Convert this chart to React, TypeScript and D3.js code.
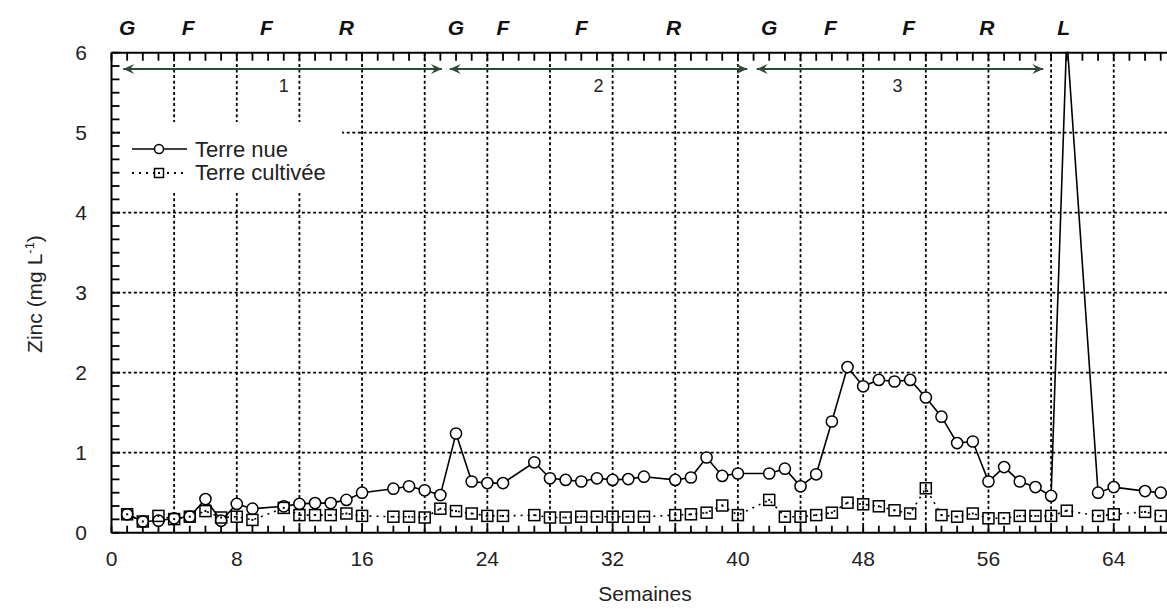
import React from "react";
import * as d3 from "d3";

// ---- data ----
const weeks: number[] = d3.range(1, 68);
const terreNue: (number | null)[] = [
  0.23, 0.14, 0.15, 0.18, 0.2, 0.42, 0.15, 0.36, 0.3, null,
  0.33, 0.36, 0.37, 0.37, 0.41, 0.5, null, 0.55, 0.58, 0.53,
  0.47, 1.24, 0.64, 0.62, 0.62, null, 0.88, 0.68, 0.66, 0.64,
  0.68, 0.66, 0.67, 0.7, null, 0.66, 0.69, 0.94, 0.71, 0.74,
  null, 0.74, 0.8, 0.58, 0.73, 1.39, 2.07, 1.83, 1.91, 1.89,
  1.91, 1.69, 1.45, 1.12, 1.14, 0.64, 0.82, 0.64, 0.57, 0.46,
  6.2, null, 0.5, 0.57, null, 0.52, 0.5,
];
const terreCultivee: (number | null)[] = [
  0.23, 0.14, 0.21, 0.17, 0.2, 0.27, 0.19, 0.2, 0.16, null,
  0.31, 0.22, 0.22, 0.22, 0.24, 0.21, null, 0.2, 0.2, 0.19,
  0.3, 0.27, 0.24, 0.21, 0.21, null, 0.22, 0.19, 0.19, 0.2,
  0.2, 0.2, 0.2, 0.2, null, 0.22, 0.23, 0.25, 0.34, 0.22,
  null, 0.41, 0.2, 0.2, 0.22, 0.25, 0.375, 0.355, 0.33, 0.28,
  0.24, 0.555, 0.22, 0.2, 0.24, 0.18, 0.18, 0.21, 0.21, 0.21,
  0.275, null, 0.21, 0.23, null, 0.26, 0.21,
];
const seriesNames = ["Terre nue", "Terre cultivée"];

const xTickLabels = [0, 8, 16, 24, 32, 40, 48, 56, 64];
const yTickLabels = [0, 1, 2, 3, 4, 5, 6];
const xGridWeeks = d3.range(4, 68, 4);
const yGridValues = [1, 2, 3, 4, 5];
const xMinorTicks = d3.range(0, 69, 1);
const yMinorTicks = d3.range(0, 37).map((i) => i / 6);

const phaseLabels = ["G", "F", "F", "R", "G", "F", "F", "R", "G", "F", "F", "R", "L"];
const phaseWeeks = [1, 4.9, 9.9, 15, 22, 25, 30, 35.9, 42, 45.9, 50.9, 55.9, 60.8];

const periodStart = [0.75, 21.6, 41.2];
const periodEnd = [21.1, 40.6, 59.5];
const periodLabel = ["1", "2", "3"];
const periodLabelWeek = [11, 31.1, 50.2];

// ---- layout ----
const W = 1167;
const H = 609;
const FONT = "'Liberation Sans', Arial, sans-serif";

export default function App() {
  const x = d3.scaleLinear().domain([0, 68]).range([111.5, 111.5 + 68 * 15.66]);
  const y = d3.scaleLinear().domain([0, 6]).range([532.7, 52.7]);
  const x0 = x(0);
  const yTop = y(6);
  const yBot = y(0);

  const nuePts = weeks
    .map((w, i) => [w, terreNue[i]] as [number, number | null])
    .filter((d) => d[1] !== null) as [number, number][];
  const cultPts = weeks
    .map((w, i) => [w, terreCultivee[i]] as [number, number | null])
    .filter((d) => d[1] !== null) as [number, number][];

  const line = d3
    .line<[number, number]>()
    .x((d) => x(d[0]))
    .y((d) => y(d[1]));

  const arrowY = 69;
  const arrowColor = "#2c4a34";
  const headRight = (tx: number, ty: number) =>
    `M${tx},${ty}L${tx - 11},${ty - 5}L${tx - 7},${ty}L${tx - 11},${ty + 5}Z`;
  const headLeft = (tx: number, ty: number) =>
    `M${tx},${ty}L${tx + 11},${ty - 5}L${tx + 7},${ty}L${tx + 11},${ty + 5}Z`;

  const dot = "3,2.6";

  return (
    <svg
      width={W}
      height={H}
      style={{ position: "absolute", left: 0, top: 0, background: "#fff" }}
      fontFamily={FONT}
    >
      <defs>
        <clipPath id="plotClip">
          <rect x={x0} y={yTop - 1} width={W} height={yBot - yTop + 2} />
        </clipPath>
      </defs>
      <rect x={0} y={0} width={W} height={H} fill="#fff" />

      {/* grid */}
      {yGridValues.map((v) => (
        <line key={"gy" + v} x1={x0} x2={W} y1={y(v)} y2={y(v)} stroke="#000" strokeWidth={1.8} strokeDasharray={dot} />
      ))}
      {xGridWeeks.map((w) => (
        <line key={"gx" + w} x1={x(w)} x2={x(w)} y1={yTop} y2={yBot} stroke="#000" strokeWidth={1.8} strokeDasharray={dot} />
      ))}

      {/* legend background */}
      <rect x={x0 + 9} y={122} width={342 - x0 - 9} height={71} fill="#fff" />

      {/* ticks */}
      {xMinorTicks.map((w) => (
        <g key={"tx" + w}>
          <line x1={x(w)} x2={x(w)} y1={yBot} y2={yBot - 7} stroke="#000" strokeWidth={1.8} />
          <line x1={x(w)} x2={x(w)} y1={yTop} y2={yTop + 8} stroke="#000" strokeWidth={1.8} />
        </g>
      ))}
      {yMinorTicks.map((v, i) => (
        <line key={"ty" + i} x1={x0} x2={x0 + 8} y1={y(v)} y2={y(v)} stroke="#000" strokeWidth={1.8} />
      ))}

      {/* frame */}
      <line x1={x0} x2={W} y1={yTop} y2={yTop} stroke="#000" strokeWidth={2} />
      <line x1={x0} x2={W} y1={yBot} y2={yBot} stroke="#000" strokeWidth={2} />
      <line x1={x0} x2={x0} y1={yTop} y2={yBot} stroke="#000" strokeWidth={2} />

      {/* tick labels */}
      {xTickLabels.map((w) => (
        <text key={"lx" + w} x={x(w)} y={566} textAnchor="middle" fontSize={21} fill="#222">
          {w}
        </text>
      ))}
      {yTickLabels.map((v) => (
        <text key={"ly" + v} x={87} y={y(v) + 7} textAnchor="end" fontSize={21} fill="#222">
          {v}
        </text>
      ))}

      {/* axis titles */}
      <text x={645} y={601} textAnchor="middle" fontSize={21} fill="#222">
        Semaines
      </text>
      <text transform="translate(42,294) rotate(-90)" textAnchor="middle" fontSize={21} fill="#222">
        Zinc (mg L<tspan dy={-8} fontSize={13}>-1</tspan>
        <tspan dy={8}>)</tspan>
      </text>

      {/* phase labels */}
      {phaseLabels.map((l, i) => (
        <text key={"ph" + i} x={x(phaseWeeks[i])} y={35} textAnchor="middle" fontSize={21} fontWeight="bold" fontStyle="italic" fill="#111">
          {l}
        </text>
      ))}

      {/* period arrows */}
      {periodStart.map((s, i) => (
        <g key={"pa" + i}>
          <line x1={x(s)} x2={x(periodEnd[i])} y1={arrowY} y2={arrowY} stroke={arrowColor} strokeWidth={1.8} />
          <path d={headLeft(x(s), arrowY)} fill={arrowColor} />
          <path d={headRight(x(periodEnd[i]), arrowY)} fill={arrowColor} />
          <text x={x(periodLabelWeek[i])} y={92} textAnchor="middle" fontSize={18} fill="#222">
            {periodLabel[i]}
          </text>
        </g>
      ))}

      {/* series */}
      <g clipPath="url(#plotClip)">
        <path d={line(cultPts) || ""} fill="none" stroke="#000" strokeWidth={1.6} strokeDasharray="2,5" />
        <path d={line(nuePts) || ""} fill="none" stroke="#000" strokeWidth={1.6} />
        {nuePts.map((d, i) => (
          <circle key={"c" + i} cx={x(d[0])} cy={y(d[1])} r={5.6} fill="#fff" stroke="#000" strokeWidth={1.5} />
        ))}
        {cultPts.map((d, i) => (
          <g key={"s" + i}>
            <rect x={x(d[0]) - 5.5} y={y(d[1]) - 5.5} width={11} height={11} fill="none" stroke="#000" strokeWidth={1.5} />
            <rect x={x(d[0]) - 1} y={y(d[1]) - 1} width={2} height={2} fill="#000" />
          </g>
        ))}
      </g>

      {/* legend */}
      <g>
        <line x1={132} x2={187} y1={149} y2={149} stroke="#000" strokeWidth={1.6} />
        <circle cx={159} cy={149} r={4.5} fill="#fff" stroke="#000" strokeWidth={1.5} />
        <text x={195} y={157} fontSize={22} fill="#222">{seriesNames[0]}</text>
        <line x1={132} x2={187} y1={173} y2={173} stroke="#000" strokeWidth={1.8} strokeDasharray="2,5" />
        <rect x={154.5} y={168.5} width={9} height={9} fill="#fff" stroke="#000" strokeWidth={1.5} />
        <rect x={158} y={172} width={2} height={2} fill="#000" />
        <text x={195} y={180} fontSize={22} fill="#222">{seriesNames[1]}</text>
      </g>
    </svg>
  );
}
